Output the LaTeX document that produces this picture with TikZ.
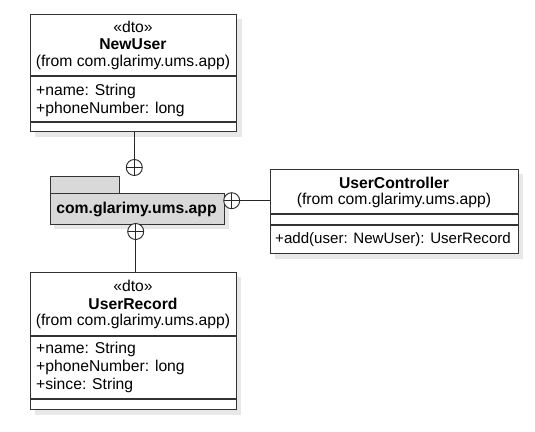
\documentclass[tikz,border=0pt]{standalone}
\usepackage{fontspec}
\setmainfont{Liberation Sans}
\begin{document}
\begin{tikzpicture}[x=1pt,y=-1pt,
  umlbox/.style={draw=black!80,line width=1.1pt,fill=white,inner sep=0pt,anchor=north west},
  shadowbox/.style={fill=black!9,draw=none},
  sep/.style={draw=black!80,line width=1.1pt},
  txt/.style={inner sep=0pt,font=\fontsize{15.7}{18}\selectfont},
  bold/.style={txt,font=\fontsize{15.7}{18}\selectfont\bfseries},
  attr/.style={txt,anchor=west},
  pkg/.style={draw=black!80,line width=1.1pt,fill=black!15,inner sep=0pt,anchor=north west},
  conn/.style={draw=black!85,line width=0.9pt},
  oplus/.style={circle,draw=black!85,line width=0.9pt,fill=white,minimum size=16pt,inner sep=0pt,
    path picture={\draw[black!85,line width=0.9pt]
      (path picture bounding box.north) -- (path picture bounding box.south)
      (path picture bounding box.west) -- (path picture bounding box.east);}}
]
\useasboundingbox (0,0) rectangle (535,431);
% shadows
\fill[shadowbox] (35,19) rectangle (242,137);
\fill[shadowbox] (275,174) rectangle (523,259);
\fill[shadowbox] (35,277) rectangle (241,415);
\fill[shadowbox] (54,198) rectangle (229,229);
% NewUser
\node[umlbox,minimum width=206pt,minimum height=117pt] (nu) at (30,14) {};
\draw[sep] (30,76) -- (236,76);
\draw[sep] (30,122) -- (236,122);
\node[txt] (nust) at (133,26.5) {«dto»};
\node[bold] (nuname) at (133,44.5) {NewUser};
\node[txt] (nufrom) at (133,62.5) {(from com.glarimy.ums.app)};
\node[attr] (nua1) at (36,91) {+name: String};
\node[attr] (nua2) at (36,109) {+phoneNumber: long};
% Package
\node[pkg,minimum width=69pt,minimum height=17pt] (tab) at (49.5,176) {};
\node[pkg,minimum width=174pt,minimum height=30.5pt] (pk) at (49.5,193) {};
\node[bold] (pktxt) at (136.5,209.5) {com.glarimy.ums.app};
% UserController
\node[umlbox,minimum width=248pt,minimum height=84pt] (uc) at (270,169) {};
\draw[sep] (270,214) -- (518,214);
\draw[sep] (270,225) -- (518,225);
\node[bold] (ucname) at (394,182.5) {UserController};
\node[txt] (ucfrom) at (394,200) {(from com.glarimy.ums.app)};
\node[attr,font=\fontsize{15.1}{18}\selectfont] (ucm1) at (275,240) {+add(user: NewUser): UserRecord};
% UserRecord
\node[umlbox,minimum width=206pt,minimum height=137pt] (ur) at (30,272) {};
\draw[sep] (30,336) -- (236,336);
\draw[sep] (30,399) -- (236,399);
\node[txt] (urst) at (133,286) {«dto»};
\node[bold] (urname) at (133,303.5) {UserRecord};
\node[txt] (urfrom) at (133,321) {(from com.glarimy.ums.app)};
\node[attr] (ura1) at (36,349) {+name: String};
\node[attr] (ura2) at (36,367) {+phoneNumber: long};
\node[attr] (ura3) at (36,385) {+since: String};
% circles and connectors
\node[oplus] (c1) at (134.3,167.5) {};
\node[oplus] (c2) at (231.7,200.7) {};
\node[oplus] (c3) at (135.7,231.5) {};
\draw[conn] (c1.north) -- (c1.north |- nu.south);
\draw[conn] (c2.east) -- (c2.east -| uc.west);
\draw[conn] (c3.south) -- (c3.south |- ur.north);
\end{tikzpicture}
\end{document}
